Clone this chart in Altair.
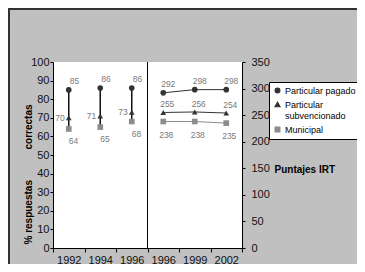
import altair as alt
import pandas as pd

# ---- data ----
years_left = ["1992", "1994", "1996"]
years_right = ["1996", "1999", "2002"]
series = ["Particular pagado", "Particular subvencionado", "Municipal"]

pct_pagado = [85, 86, 86]
pct_subv = [70, 71, 73]
pct_muni = [64, 65, 68]

irt_pagado = [292, 298, 298]
irt_subv = [255, 256, 254]
irt_muni = [238, 238, 235]

keys_left = ["a" + y for y in years_left]
keys_right = ["b" + y for y in years_right]
x_order = keys_left + keys_right

def long_df(keys, vals_by_series):
    rows = []
    for s, vals in zip(series, vals_by_series):
        for k, v in zip(keys, vals):
            rows.append({"k": k, "serie": s, "v": v})
    return pd.DataFrame(rows)

left_df = long_df(keys_left, [pct_pagado, pct_subv, pct_muni])
right_df = long_df(keys_right, [irt_pagado, irt_subv, irt_muni])
rule_df = pd.DataFrame({"k": keys_left, "top": pct_pagado, "bottom": pct_muni})
div_df = pd.DataFrame({"k": [keys_right[0]]})

FONT = "Liberation Sans"
LBL = "#7a7a7a"
NB = "\u00a0"
W, H = 189, 186

x_scale = alt.Scale(domain=x_order, paddingInner=0, paddingOuter=0)
x_axis = alt.Axis(
    title=None,
    labelExpr="slice(datum.label, 1)",
    labelAngle=0,
    tickBand="extent",
    tickSize=4,
    labelPadding=2,
    labelFontSize=11,
    labelColor="#111",
    domainColor="#000",
    tickColor="#000",
)
x_enc = alt.X("k:N", sort=x_order, scale=x_scale, axis=x_axis)

y_left_axis = alt.Axis(
    title="% respuestas" + NB * 11 + "correctas",
    titleFontSize=10,
    titleFontWeight="bold",
    titleColor="#000",
    titleAngle=270,
    titleX=-25,
    titleY=112,
    titleAlign="center",
    titleBaseline="middle",
    values=list(range(0, 101, 10)),
    tickSize=3,
    labelPadding=1,
    labelFontSize=11,
    labelColor="#111",
    grid=False,
    domainColor="#000",
    tickColor="#000",
)
y_left_scale = alt.Scale(domain=[0, 100], nice=False)

y_right_axis = alt.Axis(
    title="Puntajes IRT",
    orient="right",
    titleFontSize=10,
    titleFontWeight="bold",
    titleColor="#000",
    titleAngle=0,
    titleX=32,
    titleY=110,
    titleAlign="left",
    titleBaseline="alphabetic",
    values=list(range(0, 351, 50)),
    tickSize=3,
    labelPadding=6,
    labelFontSize=11,
    labelColor="#111",
    grid=False,
    domainColor="#000",
    tickColor="#000",
)
y_right_scale = alt.Scale(domain=[0, 350], nice=False)

color_enc = alt.Color(
    "serie:N",
    scale=alt.Scale(domain=series, range=["#333333", "#333333", "#8c8c8c"]),
    legend=alt.Legend(
        title=None,
        orient="none",
        legendX=216,
        legendY=20,
        fillColor="white",
        strokeColor="#000",
        padding=4,
        symbolSize=20,
        labelFontSize=9,
        labelFont=FONT,
        labelColor="#000",
        labelOffset=3,
        rowPadding=3,
        labelExpr="datum.label == 'Particular subvencionado' ? ['Particular', 'subvencionado'] : datum.label",
    ),
)
shape_enc = alt.Shape(
    "serie:N",
    scale=alt.Scale(domain=series, range=["circle", "triangle-up", "square"]),
)

def yl(field="v"):
    return alt.Y(f"{field}:Q", scale=y_left_scale, axis=y_left_axis)

def yr(field="v"):
    return alt.Y(f"{field}:Q", scale=y_right_scale, axis=y_right_axis)

# ---- left panel (% respuestas correctas) ----
left_rule = alt.Chart(rule_df).mark_rule(color="#111", strokeWidth=1.5).encode(
    x=x_enc, y=yl("top"), y2="bottom:Q"
)
left_pts = alt.Chart(left_df).mark_point(filled=True, size=32, opacity=1).encode(
    x=x_enc, y=yl(), color=color_enc, shape=shape_enc
)
txt_kw = dict(fontSize=8.5, font=FONT, color=LBL)
left_top = alt.Chart(left_df).transform_filter(
    alt.datum.serie == series[0]
).mark_text(align="left", dx=1, dy=-9, **txt_kw).encode(x=x_enc, y=yl(), text="v:Q")
left_mid = alt.Chart(left_df).transform_filter(
    alt.datum.serie == series[1]
).mark_text(align="right", dx=-4, dy=0, **txt_kw).encode(x=x_enc, y=yl(), text="v:Q")
left_bot = alt.Chart(left_df).transform_filter(
    alt.datum.serie == series[2]
).mark_text(align="left", dx=0, dy=12, **txt_kw).encode(x=x_enc, y=yl(), text="v:Q")

divider = alt.Chart(div_df).mark_rule(color="#000", strokeWidth=1).encode(
    x=alt.X("k:N", sort=x_order, bandPosition=0, scale=x_scale, axis=x_axis),
    y=alt.value(0),
    y2=alt.value(H),
)

# decorative outer border of the chart frame
border_left = alt.Chart(div_df).mark_rule(color="#333", strokeWidth=2).encode(
    x=alt.value(-44), y=alt.value(-53), y2=alt.value(220)
)
border_top = alt.Chart(div_df).mark_rule(color="#333", strokeWidth=2).encode(
    x=alt.value(-45), x2=alt.value(330), y=alt.value(-53)
)

left = alt.layer(left_rule, left_pts, left_top, left_mid, left_bot)

# ---- right panel (Puntajes IRT) ----
right_lines = alt.Chart(right_df).mark_line(strokeWidth=1).encode(
    x=x_enc, y=yr(),
    color=alt.Color("serie:N", scale=alt.Scale(domain=series, range=["#333333", "#333333", "#8c8c8c"]), legend=None),
    detail="serie:N",
)
right_pts = alt.Chart(right_df).mark_point(filled=True, size=32, opacity=1).encode(
    x=x_enc, y=yr(), color=color_enc, shape=shape_enc
)
right_top = alt.Chart(right_df).transform_filter(
    alt.datum.serie == series[0]
).mark_text(align="center", dx=5, dy=-9, **txt_kw).encode(x=x_enc, y=yr(), text="v:Q")
right_mid = alt.Chart(right_df).transform_filter(
    alt.datum.serie == series[1]
).mark_text(align="center", dx=4, dy=-8, **txt_kw).encode(x=x_enc, y=yr(), text="v:Q")
right_bot = alt.Chart(right_df).transform_filter(
    alt.datum.serie == series[2]
).mark_text(align="center", dx=3, dy=13, **txt_kw).encode(x=x_enc, y=yr(), text="v:Q")

right = alt.layer(right_lines, right_pts, right_top, right_mid, right_bot)

chart = (
    alt.layer(left, right, divider, border_left, border_top)
    .resolve_scale(y="independent")
    .properties(
        width=W,
        height=H,
        background="#c0c0c0",
        autosize=alt.AutoSizeParams(type="none"),
        padding={"left": 45, "top": 54, "right": 115, "bottom": 16},
    )
    .configure_view(stroke=None, fill="white")
    .configure_axis(labelFont=FONT, titleFont=FONT)
    .configure_text(font=FONT)
)

chart.save("out.html", embed_options={"renderer": "svg", "actions": False})
